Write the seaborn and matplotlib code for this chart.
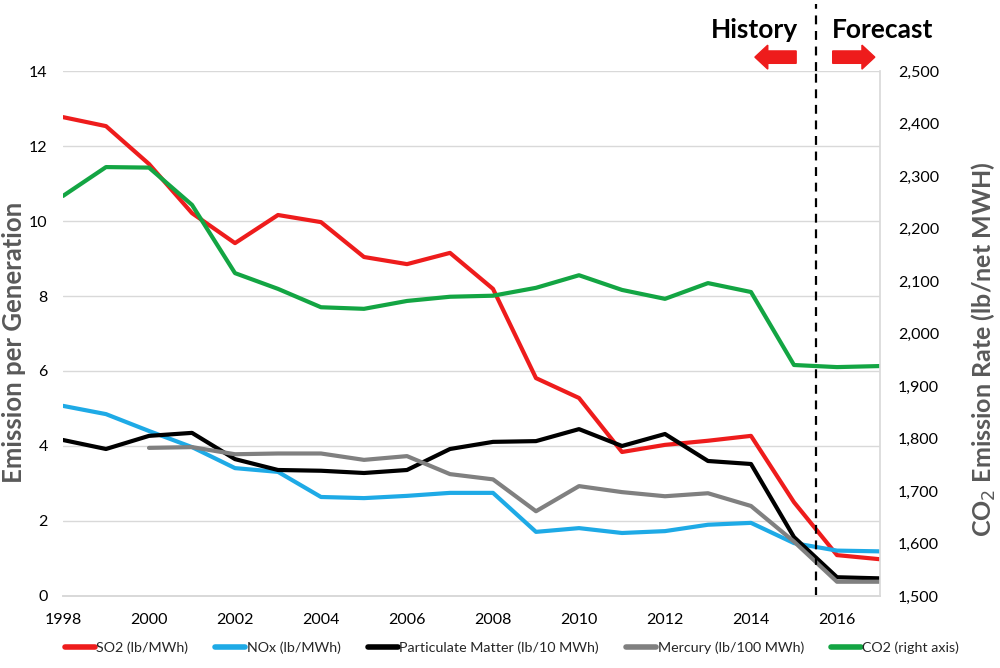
import numpy as np
import pandas as pd
import matplotlib
matplotlib.use("Agg")
import matplotlib.pyplot as plt
import seaborn as sns
from matplotlib.patches import FancyArrow

years = list(range(1998, 2018))
so2 = [12.77, 12.53, 11.52, 10.21, 9.41, 10.16, 9.97, 9.04, 8.85, 9.15, 8.19,
       5.81, 5.28, 3.84, 4.03, 4.14, 4.27, 2.50, 1.09, 0.98]
nox = [5.07, 4.85, 4.40, 3.97, 3.41, 3.31, 2.64, 2.61, 2.67, 2.75, 2.75,
       1.71, 1.81, 1.68, 1.73, 1.90, 1.95, 1.41, 1.21, 1.19]
pm = [4.16, 3.92, 4.27, 4.35, 3.65, 3.36, 3.34, 3.28, 3.36, 3.92, 4.11,
      4.13, 4.45, 4.00, 4.32, 3.60, 3.52, 1.57, 0.50, 0.47]
mercury = [np.nan, np.nan, 3.95, 3.97, 3.78, 3.80, 3.80, 3.63, 3.73, 3.25, 3.11,
           2.26, 2.93, 2.77, 2.66, 2.74, 2.40, 1.45, 0.38, 0.38]
co2 = [2262, 2317, 2316, 2245, 2115, 2085, 2050, 2047, 2062, 2070, 2072,
       2087, 2111, 2083, 2066, 2096, 2079, 1940, 1936, 1938]

left_ticks = [0, 2, 4, 6, 8, 10, 12, 14]
right_ticks = [1500, 1600, 1700, 1800, 1900, 2000, 2100, 2200, 2300, 2400, 2500]
x_ticks = [1998, 2000, 2002, 2004, 2006, 2008, 2010, 2012, 2014, 2016]
split_year = 2015.5

labels = ["SO2 (lb/MWh)", "NOx (lb/MWh)", "Particulate Matter (lb/10 MWh)",
          "Mercury (lb/100 MWh)", "CO2 (right axis)"]
colors = ["#ee1c1c", "#1eaae6", "#000000", "#808080", "#13a543"]

sns.set_theme(style="white")
plt.rcParams['font.family'] = ['Lato', 'DejaVu Sans']

df = pd.DataFrame({"year": years * 4,
                   "value": so2 + nox + pm + mercury,
                   "series": sum([[l] * len(years) for l in labels[:4]], [])})

fig = plt.figure(figsize=(10, 6.68), dpi=100)
ax = fig.add_axes([0.063, 0.1078, 0.817, 0.7859])
ax2 = ax.twinx()

sns.lineplot(data=df, x="year", y="value", hue="series", hue_order=labels[:4],
             palette=colors[:4], linewidth=3, ax=ax, legend=False)
sns.lineplot(x=years, y=co2, color=colors[4], linewidth=3, ax=ax2, legend=False)

ax.set_xlim(1998, 2017)
ax.set_ylim(0, 14)
ax2.set_ylim(1500, 2500)
ax.set_xticks(x_ticks)
ax.set_yticks(left_ticks)
ax2.set_yticks(right_ticks)
ax2.set_yticklabels([f"{v:,}" for v in right_ticks])
ax.grid(axis="y", color="#d9d9d9", linewidth=1)
ax.set_axisbelow(True)

for a in (ax, ax2):
    a.spines["top"].set_visible(False)
    a.spines["left"].set_visible(False)
    a.spines["right"].set_visible(False)
    a.spines["bottom"].set_color("#d9d9d9")
    a.tick_params(labelsize=11.5, colors="#000000", length=0)
ax2.spines["right"].set_visible(True)
ax2.spines["right"].set_color("#d9d9d9")
ax.tick_params(axis="x", pad=12)
ax.tick_params(axis="y", pad=11)
ax2.tick_params(axis="y", pad=13)

ax.set_xlabel("")
ax.set_ylabel("Emission per Generation", fontsize=18.5, fontweight="bold",
              color="#595959", labelpad=2)
ax.yaxis.label.set_y(0.484)
ax2.set_ylabel("CO$_2$ Emission Rate (lb/net MWH)", fontsize=18, fontweight="bold",
               color="#595959", labelpad=22)
ax2.yaxis.label.set_y(0.47)

ax.axvline(split_year, color="black", linestyle=(0, (4, 3)), linewidth=1.6)
ax.plot([split_year, split_year], [14, 15.8], color="black",
        linestyle=(0, (4, 3)), linewidth=1.6, clip_on=False)

ax.text(2014.09, 15.1, "History", ha="center", va="center", fontsize=19,
        fontweight="bold", color="black")
ax.text(2017.07, 15.1, "Forecast", ha="center", va="center", fontsize=19,
        fontweight="bold", color="black")
ax.add_patch(FancyArrow(2015.05, 14.37, -0.96, 0, width=0.33, head_width=0.64,
                        head_length=0.3, length_includes_head=True,
                        color="#ee1c1c", clip_on=False))
ax.add_patch(FancyArrow(2015.9, 14.37, 0.98, 0, width=0.33, head_width=0.64,
                        head_length=0.3, length_includes_head=True,
                        color="#ee1c1c", clip_on=False))

handles = [plt.Line2D([0], [0], color=c, linewidth=4) for c in colors]
fig.legend(handles, labels, loc="center", bbox_to_anchor=(0.512, 0.03), ncol=5,
           frameon=False, fontsize=10.3, handlelength=2.1, handletextpad=0.1,
           columnspacing=1.9)

fig.savefig("out.png", dpi=100)
